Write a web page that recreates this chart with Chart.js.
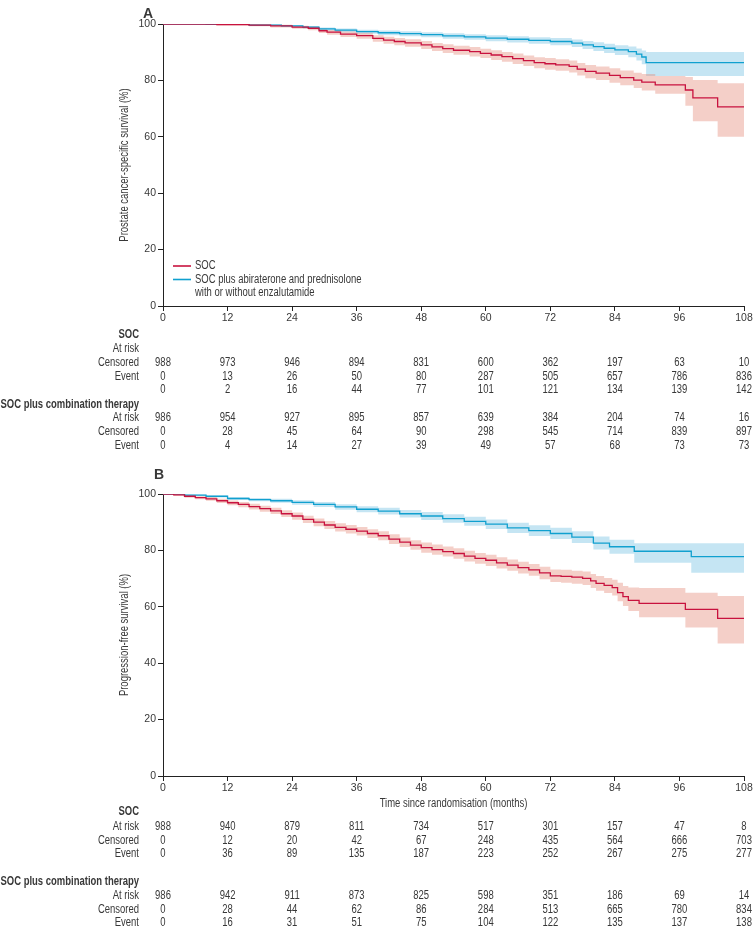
<!DOCTYPE html>
<html>
<head>
<meta charset="utf-8">
<title>Survival by treatment arm</title>
<script src="https://cdn.jsdelivr.net/npm/chart.js@4.4.0/dist/chart.umd.min.js"></script>
<style>
  body { margin: 0; background: #fff; }
  #wrap { width: 754px; height: 929px; }
  canvas { display: block; }
</style>
</head>
<body>
<div id="wrap">
  <canvas id="chartA" width="754" height="465"></canvas>
  <canvas id="chartB" width="754" height="464"></canvas>
</div>
<script>
// ticks
var xTicks = [0, 12, 24, 36, 48, 60, 72, 84, 96, 108];
var yTicks = [0, 20, 40, 60, 80, 100];

// panel A, prostate cancer-specific survival
var monthsSocA = [0, 10, 16, 20, 24, 27, 29, 30.5, 33, 36, 39, 41, 43, 45, 48, 50, 52, 54, 57, 59, 61, 63, 65, 67, 69, 71, 73, 75.5, 77, 78.5, 80.5, 83, 85, 87.5, 89, 91.5, 97.1, 98.5, 103.1, 108];
var survSocA = [100, 99.8, 99.6, 99.3, 98.9, 98.5, 97.6, 97.1, 96.4, 95.9, 94.9, 94.3, 93.8, 93.3, 92.6, 91.9, 91.3, 90.7, 90.2, 89.6, 89.0, 88.4, 87.7, 87.0, 86.3, 85.9, 85.5, 85.0, 84.0, 83.2, 82.6, 81.8, 81.0, 80.1, 79.4, 78.4, 76.6, 73.8, 70.6, 70.6];
var lowSocA = [100, 99.5, 99.2, 98.8, 98.3, 97.8, 96.8, 96.2, 95.4, 94.8, 93.7, 93.0, 92.5, 91.9, 91.1, 90.4, 89.7, 89.1, 88.5, 87.9, 87.2, 86.6, 85.8, 85.1, 84.3, 83.8, 83.4, 82.8, 81.7, 80.8, 80.1, 79.2, 78.3, 77.3, 76.4, 75.3, 71.0, 65.5, 60.0, 60.0];
var highSocA = [100, 99.95, 99.9, 99.7, 99.4, 99.1, 98.3, 97.9, 97.3, 96.9, 96.0, 95.5, 95.0, 94.6, 94.0, 93.3, 92.8, 92.3, 91.8, 91.2, 90.7, 90.1, 89.5, 88.8, 88.2, 87.9, 87.5, 87.1, 86.2, 85.5, 84.9, 84.3, 83.5, 82.7, 82.3, 81.6, 81.2, 80.1, 79.0, 79.0];

var monthsCombA = [0, 8, 16, 22, 26, 29, 32, 36, 40, 44, 48, 52, 56, 60, 64, 68, 72, 76, 78, 80, 82, 84, 86.5, 88, 89, 89.8, 108];
var survCombA = [100, 99.9, 99.6, 99.3, 98.9, 98.3, 97.8, 97.3, 96.9, 96.6, 96.2, 95.8, 95.4, 95.0, 94.6, 94.2, 93.8, 93.2, 92.6, 92.0, 91.4, 90.8, 90.2, 89.3, 88.3, 86.3, 86.3];
var lowCombA = [100, 99.7, 99.3, 98.9, 98.4, 97.7, 97.1, 96.5, 96.0, 95.7, 95.3, 94.8, 94.4, 93.9, 93.4, 93.0, 92.5, 91.8, 91.1, 90.4, 89.7, 89.0, 88.2, 87.1, 85.7, 81.6, 81.6];
var highCombA = [100, 100, 99.85, 99.6, 99.3, 98.8, 98.4, 98.0, 97.7, 97.4, 97.1, 96.7, 96.4, 96.0, 95.7, 95.3, 95.0, 94.5, 94.0, 93.5, 93.0, 92.5, 92.0, 91.3, 90.6, 90.1, 90.1];

// panel B, progression-free survival
var monthsSocB = [0, 2, 4, 6, 8, 10, 12, 14, 16, 18, 20, 22, 24, 26, 28, 30, 32, 34, 36, 38, 40, 42, 44, 46, 48, 50, 52, 54, 56, 58, 60, 62, 64, 66, 68, 70, 72, 74, 76, 78, 79.5, 80.5, 82, 83.5, 84.5, 85.5, 86.5, 88.5, 97.1, 103.1, 108];
var survSocB = [100, 99.7, 99.2, 98.7, 98.3, 97.6, 96.9, 96.3, 95.5, 94.8, 94.0, 93.0, 92.2, 91.0, 90.0, 89.0, 88.2, 87.5, 86.8, 86.0, 85.2, 84.0, 82.9, 81.9, 81.0, 80.3, 79.6, 78.9, 78.0, 77.2, 76.5, 75.6, 74.8, 73.9, 73.1, 72.0, 71.0, 70.8, 70.5, 70.1, 69.2, 68.3, 67.6, 66.8, 65.0, 63.6, 62.3, 61.2, 59.1, 55.9, 55.9];
var lowSocB = [100, 99.4, 98.7, 98.1, 97.6, 96.8, 96.0, 95.3, 94.5, 93.7, 92.9, 91.8, 90.9, 89.7, 88.6, 87.6, 86.7, 86.0, 85.3, 84.4, 83.6, 82.3, 81.2, 80.2, 79.2, 78.5, 77.8, 77.0, 76.1, 75.3, 74.5, 73.6, 72.8, 71.8, 71.0, 69.8, 68.8, 68.5, 68.2, 67.7, 66.7, 65.7, 64.9, 64.0, 62.0, 60.3, 58.5, 56.3, 52.7, 47.0, 47.0];
var highSocB = [100, 99.9, 99.6, 99.2, 98.9, 98.3, 97.7, 97.2, 96.5, 95.8, 95.1, 94.2, 93.4, 92.3, 91.3, 90.4, 89.6, 89.0, 88.3, 87.5, 86.8, 85.7, 84.6, 83.6, 82.8, 82.1, 81.4, 80.8, 79.9, 79.1, 78.5, 77.6, 76.8, 76.0, 75.2, 74.2, 73.2, 73.1, 72.8, 72.5, 71.6, 70.9, 70.2, 69.6, 68.5, 67.4, 66.8, 66.7, 65.0, 63.8, 63.8];

var monthsCombB = [0, 4, 8, 12, 16, 20, 24, 28, 32, 36, 40, 44, 48, 52, 56, 60, 64, 68, 72, 76, 80, 83, 87.6, 98.2, 108];
var survCombB = [100, 99.6, 99.2, 98.4, 98.0, 97.6, 97.0, 96.3, 95.4, 94.6, 93.9, 93.0, 92.2, 91.3, 90.3, 89.3, 88.0, 87.0, 86.0, 84.7, 82.6, 81.3, 79.7, 77.8, 77.8];
var lowCombB = [100, 99.3, 98.8, 97.9, 97.4, 96.9, 96.2, 95.4, 94.4, 93.5, 92.7, 91.7, 90.8, 89.8, 88.7, 87.6, 86.2, 85.1, 84.0, 82.6, 80.3, 78.8, 75.6, 72.1, 72.1];
var highCombB = [100, 99.85, 99.5, 98.9, 98.6, 98.3, 97.8, 97.2, 96.4, 95.7, 95.1, 94.3, 93.6, 92.8, 91.9, 91.0, 89.8, 88.9, 88.0, 86.8, 84.9, 83.8, 82.5, 82.5, 82.5];

// numbers at risk tables
var socTitle = 'SOC';
var combTitle = 'SOC plus combination therapy';
var legendLines = ['SOC', 'SOC plus abiraterone and prednisolone', 'with or without enzalutamide'];

var tabA_socAtRisk = [];
var tabA_socCensored = [988, 973, 946, 894, 831, 600, 362, 197, 63, 10];
var tabA_socEvent = [0, 13, 26, 50, 80, 287, 505, 657, 786, 836];
var tabA_socExtra = [0, 2, 16, 44, 77, 101, 121, 134, 139, 142];
var tabA_combAtRisk = [986, 954, 927, 895, 857, 639, 384, 204, 74, 16];
var tabA_combCensored = [0, 28, 45, 64, 90, 298, 545, 714, 839, 897];
var tabA_combEvent = [0, 4, 14, 27, 39, 49, 57, 68, 73, 73];

var tabB_socAtRisk = [988, 940, 879, 811, 734, 517, 301, 157, 47, 8];
var tabB_socCensored = [0, 12, 20, 42, 67, 248, 435, 564, 666, 703];
var tabB_socEvent = [0, 36, 89, 135, 187, 223, 252, 267, 275, 277];
var tabB_combAtRisk = [986, 942, 911, 873, 825, 598, 351, 186, 69, 14];
var tabB_combCensored = [0, 28, 44, 62, 86, 284, 513, 665, 780, 834];
var tabB_combEvent = [0, 16, 31, 51, 75, 104, 122, 135, 137, 138];

var FONT = "'Liberation Sans', Arial, sans-serif";
var TEXT = '#383838';
var RED = '#c8123e';
var BLUE = '#10a0cf';
var RED_BAND = 'rgba(228, 140, 125, 0.42)';
var BLUE_BAND = 'rgba(110, 190, 225, 0.40)';
var NARROW = 0.79;   // squeeze Liberation Sans to look like a condensed face
var TXT_SIZE = 12;

Chart.defaults.font.family = FONT;
Chart.defaults.font.size = 10.5;
Chart.defaults.color = TEXT;

function pts(xs, ys) {
    return xs.map(function(m, i) { return { x: m, y: ys[i] }; });
}

function lineSet(xs, ys, color) {
    return { data: pts(xs, ys), borderColor: color, borderWidth: 1.3, stepped: true, fill: false, order: 0, pointRadius: 0 };
}

function bandSet(xs, ys, color, fillTo) {
    return { data: pts(xs, ys), borderWidth: 0, borderColor: 'rgba(0,0,0,0)', backgroundColor: color,
             stepped: true, fill: fillTo, order: 1, pointRadius: 0 };
}

function narrowText(ctx, text, x, y, align, bold, rotate) {
    ctx.save();
    ctx.translate(x, y);
    if (rotate) ctx.rotate(-Math.PI / 2);
    ctx.scale(NARROW, 1);
    ctx.font = (bold ? 'bold ' : '') + TXT_SIZE + 'px ' + FONT;
    ctx.textAlign = align;
    ctx.textBaseline = 'middle';
    ctx.fillText(text, 0, 0);
    ctx.restore();
}

// panel letter, axis titles, legend and the table under the axis
function extrasPlugin(cfg) {
    return {
        id: 'extras',
        afterDraw: function(chart) {
            var ctx = chart.ctx, xs = chart.scales.x, area = chart.chartArea;
            ctx.save();
            ctx.fillStyle = TEXT;
            ctx.font = 'bold 14px ' + FONT;
            ctx.textAlign = 'center';
            ctx.textBaseline = 'middle';
            ctx.fillText(cfg.letter, cfg.letterX, area.top - cfg.letterDy);

            narrowText(ctx, cfg.yTitle, 125, (area.top + area.bottom) / 2, 'center', false, true);
            if (cfg.xTitle) {
                narrowText(ctx, cfg.xTitle, (area.left + area.right) / 2, area.bottom + 28, 'center', false);
            }

            if (cfg.legend) {
                var ly = area.bottom - 40;
                [RED, BLUE].forEach(function(c, i) {
                    ctx.strokeStyle = c;
                    ctx.lineWidth = 1.6;
                    ctx.beginPath();
                    ctx.moveTo(173, ly + i * 13.5);
                    ctx.lineTo(191, ly + i * 13.5);
                    ctx.stroke();
                });
                legendLines.forEach(function(t, i) {
                    narrowText(ctx, t, 195, ly + i * 13.5, 'left', false);
                });
            }

            cfg.rows.forEach(function(r) {
                var y = area.bottom + r.dy;
                narrowText(ctx, r.label, 139, y, 'right', r.bold);
                (r.values || []).forEach(function(v, i) {
                    narrowText(ctx, String(v), xs.getPixelForValue(xTicks[i]), y, 'center', false);
                });
            });
            ctx.restore();
        }
    };
}

function makeChart(id, opts) {
    return new Chart(document.getElementById(id), {
        type: 'line',
        data: {
            datasets: [
                lineSet(opts.socX, opts.socY, RED),
                lineSet(opts.combX, opts.combY, BLUE),
                bandSet(opts.socX, opts.socLow, 'rgba(0,0,0,0)', false),
                bandSet(opts.socX, opts.socHigh, RED_BAND, 2),
                bandSet(opts.combX, opts.combLow, 'rgba(0,0,0,0)', false),
                bandSet(opts.combX, opts.combHigh, BLUE_BAND, 4)
            ]
        },
        options: {
            responsive: false,
            animation: false,
            layout: { padding: { left: 114, right: 10, top: opts.padTop, bottom: opts.padBottom } },
            plugins: { legend: { display: false }, tooltip: { enabled: false } },
            scales: {
                x: {
                    type: 'linear', min: 0, max: 108,
                    afterBuildTicks: function(s) { s.ticks = xTicks.map(function(v) { return { value: v }; }); },
                    afterFit: function(s) { s.height = opts.xHeight; },
                    border: { display: true, color: '#222', width: 1 },
                    grid: { display: true, drawOnChartArea: false, drawTicks: true, tickLength: 5, color: '#222' },
                    ticks: { padding: 1, color: TEXT, maxRotation: 0 }
                },
                y: {
                    min: 0, max: 100,
                    afterBuildTicks: function(s) { s.ticks = yTicks.map(function(v) { return { value: v }; }); },
                    afterFit: function(s) { s.width = 49; },
                    border: { display: true, color: '#222', width: 1 },
                    grid: { display: true, drawOnChartArea: false, drawTicks: true, tickLength: 5, color: '#222' },
                    ticks: { padding: 2, color: TEXT }
                }
            }
        },
        plugins: [extrasPlugin(opts.extras)]
    });
}

makeChart('chartA', {
    socX: monthsSocA, socY: survSocA, socLow: lowSocA, socHigh: highSocA,
    combX: monthsCombA, combY: survCombA, combLow: lowCombA, combHigh: highCombA,
    padTop: 24, padBottom: 129, xHeight: 30,
    extras: {
        letter: 'A', letterX: 148, letterDy: 10, legend: true,
        yTitle: 'Prostate cancer-specific survival (%)',
        rows: [
            { label: socTitle, bold: true, dy: 29 },
            { label: 'At risk', values: tabA_socAtRisk, dy: 43 },
            { label: 'Censored', values: tabA_socCensored, dy: 57 },
            { label: 'Event', values: tabA_socEvent, dy: 71 },
            { label: '', values: tabA_socExtra, dy: 84 },
            { label: combTitle, bold: true, dy: 99 },
            { label: 'At risk', values: tabA_combAtRisk, dy: 112 },
            { label: 'Censored', values: tabA_combCensored, dy: 126 },
            { label: 'Event', values: tabA_combEvent, dy: 140 }
        ]
    }
});

makeChart('chartB', {
    socX: monthsSocB, socY: survSocB, socLow: lowSocB, socHigh: highSocB,
    combX: monthsCombB, combY: survCombB, combLow: lowCombB, combHigh: highCombB,
    padTop: 29, padBottom: 115, xHeight: 38,
    extras: {
        letter: 'B', letterX: 159, letterDy: 19, legend: false,
        yTitle: 'Progression-free survival (%)',
        xTitle: 'Time since randomisation (months)',
        rows: [
            { label: socTitle, bold: true, dy: 36 },
            { label: 'At risk', values: tabB_socAtRisk, dy: 51 },
            { label: 'Censored', values: tabB_socCensored, dy: 65 },
            { label: 'Event', values: tabB_socEvent, dy: 78 },
            { label: combTitle, bold: true, dy: 106 },
            { label: 'At risk', values: tabB_combAtRisk, dy: 120 },
            { label: 'Censored', values: tabB_combCensored, dy: 134 },
            { label: 'Event', values: tabB_combEvent, dy: 147 }
        ]
    }
});
</script>
</body>
</html>
